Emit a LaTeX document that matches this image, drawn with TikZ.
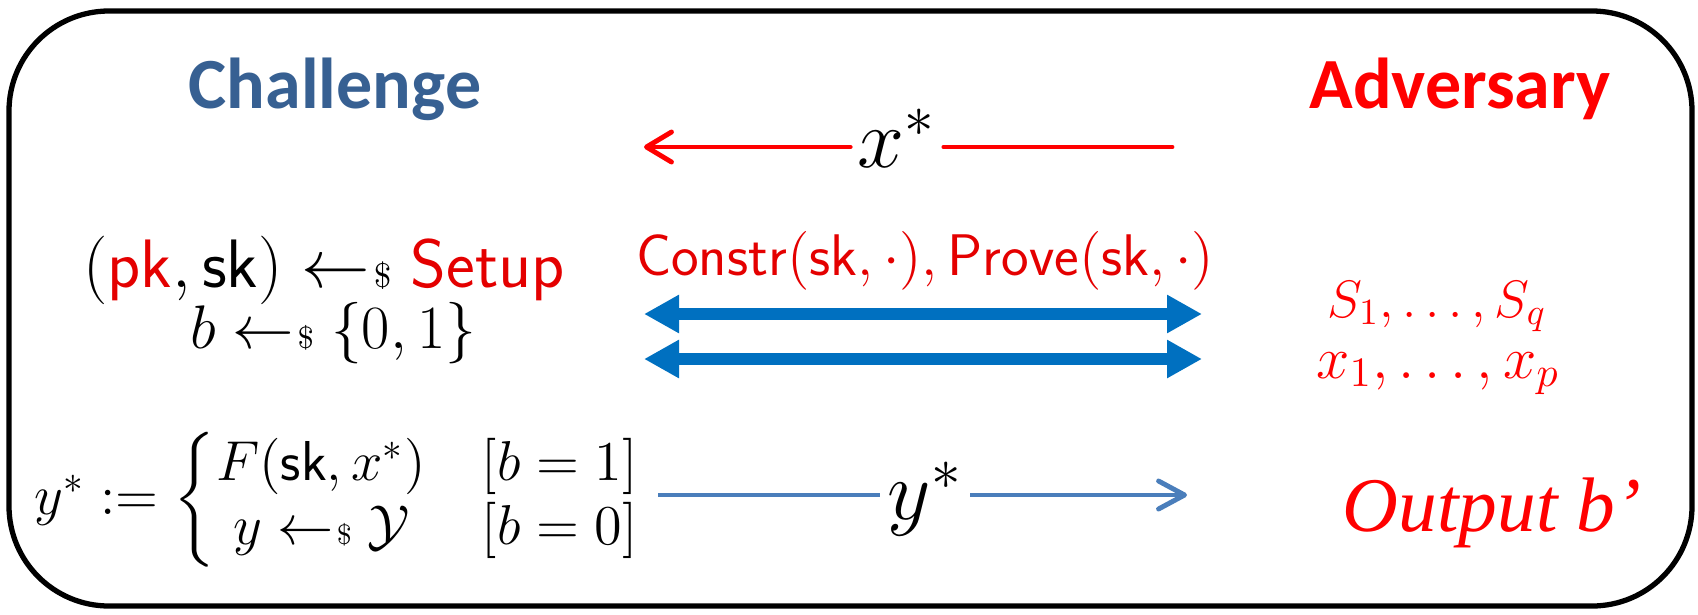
\documentclass[tikz,border=0pt]{standalone}
\usepackage{fix-cm}
\usepackage{amsmath,amssymb}
\usepackage{fontspec}
\newfontfamily\titlefont{Carlito}
\newfontfamily\timesfont{Liberation Serif}
\usepackage{tikz}
\usetikzlibrary{arrows.meta}

\definecolor{chalblue}{RGB}{55,96,146}
\definecolor{mathred}{RGB}{228,0,0}
\definecolor{queryblue}{RGB}{0,112,192}
\definecolor{ansblue}{RGB}{74,126,187}

\newcommand{\sampled}{\mathrel{\leftarrow\mkern-4mu{\scriptscriptstyle\$}}}

\begin{document}
\begin{tikzpicture}
        \useasboundingbox (0,0) rectangle (16.98,6.14);
        \draw[line width=1.5pt, rounded corners=1cm] (0.09,0.08) rectangle (16.92,6.03);

        \tikzset{
            title/.style={anchor=base, font=\fontsize{20.5}{24}\selectfont\titlefont\bfseries},
            left/.style={anchor=base, inner sep=1pt},
            label/.style={inner sep=2pt, font=\fontsize{24}{28}\selectfont},
            redmsg/.style={draw=red, line width=1.4pt, line cap=round},
            query/.style={draw=queryblue, line width=0.12cm,
                {Triangle[length=0.35cm,width=0.36cm]}-{Triangle[length=0.35cm,width=0.36cm]}},
            answer/.style={draw=ansblue, line width=1.4pt,
                -{Straight Barb[length=0.26cm,width=0.28cm,round]}}
        }

        % the two parties
        \node[title, text=chalblue] (chal) at (3.35,5.06) {Challenge};
        \node[title, text=red] (adv) at (14.60,5.06) {Adversary};

        % challenge point x*
        \coordinate (xtip) at (6.44,4.67);
        \coordinate (xtail) at (11.72,4.67);
        \node[label] (xs) at (8.97,4.76) {$x^*$};
        \draw[redmsg] (xtail) -- (xtail -| xs.east);
        \draw[redmsg, -{Straight Barb[length=0.25cm,width=0.3cm,round]}] (xtip -| xs.west) -- (xtip);

        % setup
        \node[left, font=\fontsize{19.5}{22}\selectfont] (setup) at (3.24,3.27)
            {$(\textcolor{mathred}{\mathsf{pk}},\mathsf{sk}) \sampled \textcolor{mathred}{\mathsf{Setup}}$};
        \node[left, font=\fontsize{17.5}{20}\selectfont] (bit) at (3.33,2.66) {$b \sampled \{0,1\}$};

        % oracles
        \node[anchor=base, text=mathred, font=\fontsize{16.7}{19}\selectfont] (oracles) at (9.25,3.39)
            {$\mathsf{Constr}(\mathsf{sk},\cdot), \mathsf{Prove}(\mathsf{sk},\cdot)$};
        \coordinate (q1l) at (6.44,3.00);
        \coordinate (q1r) at (12.02,3.00);
        \coordinate (q2l) at (6.44,2.55);
        \coordinate (q2r) at (12.02,2.55);
        \draw[query] (q1l) -- (q1r);
        \draw[query] (q2l) -- (q2r);

        \node[anchor=base, text=red, font=\fontsize{15}{18}\selectfont] (slist) at (14.37,2.97) {$S_1,\ldots,S_q$};
        \node[anchor=base, text=red, font=\fontsize{17}{20}\selectfont] (xlist) at (14.38,2.36) {$x_1,\ldots,x_p$};

        % answer y*
        \node[left, anchor=base west, font=\fontsize{16}{15}\selectfont] (ystar) at (0.30,1.00)
            {$y^* := \begin{cases} F(\mathsf{sk},x^*) & [b=1]\\ \ y \sampled \mathcal{Y} & [b=0]\end{cases}$};
        \coordinate (ytail) at (6.58,1.19);
        \coordinate (ytip) at (11.87,1.19);
        \node[label] (ys) at (9.25,1.15) {$y^*$};
        \draw[answer, -] (ytail) -- (ytail -| ys.west);
        \draw[answer] (ytip -| ys.east) -- (ytip);

        \node[anchor=base, text=red, font=\fontsize{22}{26}\selectfont\timesfont\itshape] (out) at (14.92,0.83) {Output b’};
\end{tikzpicture}
\end{document}
